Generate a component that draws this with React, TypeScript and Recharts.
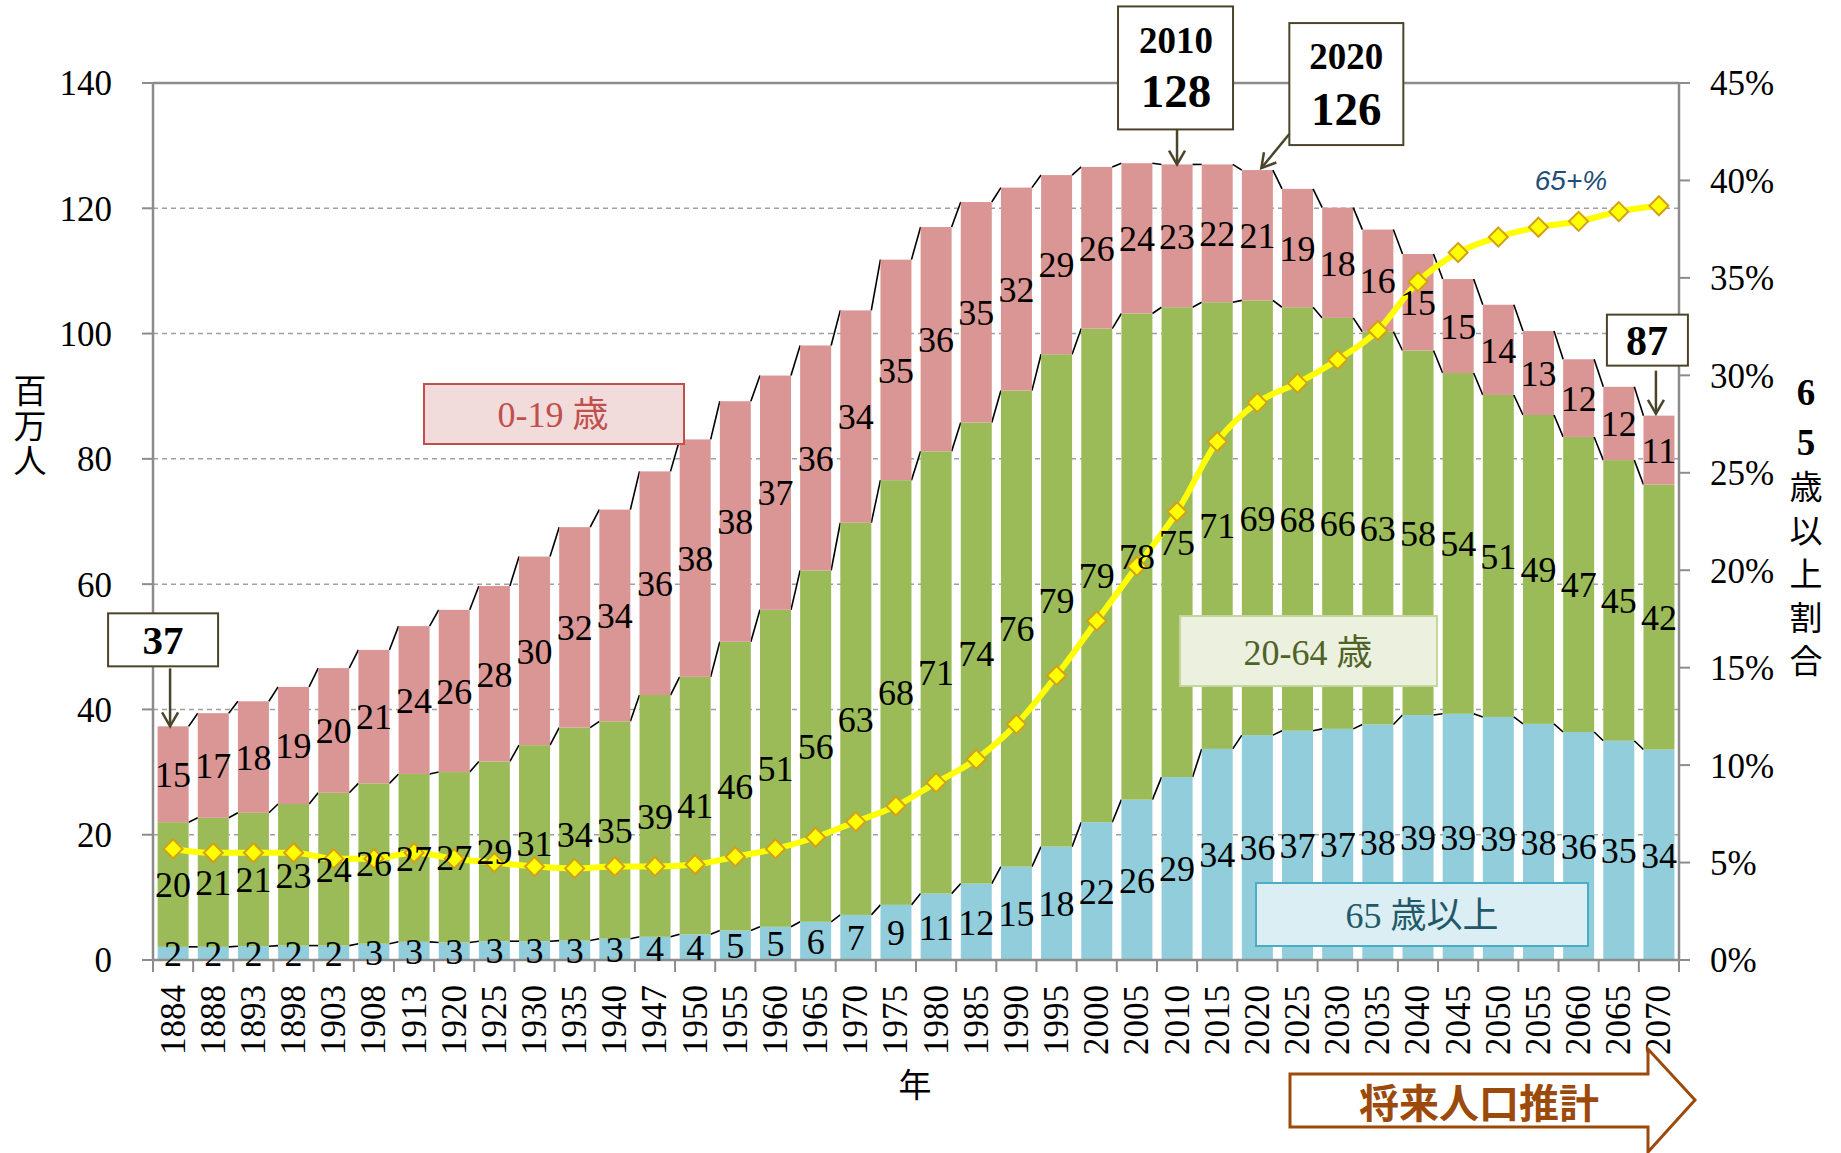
import React from 'react';
import {
  ComposedChart,
  Bar,
  Line,
  XAxis,
  YAxis,
  CartesianGrid,
  LabelList,
  ReferenceDot,
  ReferenceLine,
} from 'recharts';

// ---------- data ----------
const years = [
  '1884', '1888', '1893', '1898', '1903', '1908', '1913', '1920', '1925', '1930',
  '1935', '1940', '1947', '1950', '1955', '1960', '1965', '1970', '1975', '1980',
  '1985', '1990', '1995', '2000', '2005', '2010', '2015', '2020', '2025', '2030',
  '2035', '2040', '2045', '2050', '2055', '2060', '2065', '2070',
];
// 65歳以上 (million)
const age65plus = [
  2.1, 2.1, 2.2, 2.3, 2.3, 2.6, 2.9, 2.8, 3.0, 3.0,
  3.1, 3.4, 3.7, 4.1, 4.7, 5.3, 6.1, 7.2, 8.8, 10.6,
  12.2, 14.9, 18.1, 22.0, 25.6, 29.2, 33.7, 35.9, 36.6, 36.9,
  37.6, 39.1, 39.3, 38.8, 37.7, 36.4, 35.0, 33.6,
];
// 20-64歳 (million)
const age20to64 = [
  19.9, 20.6, 21.3, 22.6, 24.4, 25.6, 26.8, 27.2, 28.7, 31.3,
  34.0, 34.7, 38.6, 41.1, 46.1, 50.6, 56.1, 62.6, 67.8, 70.6,
  73.6, 76.0, 78.6, 78.8, 77.6, 75.0, 71.3, 69.4, 67.6, 65.6,
  62.7, 58.2, 54.4, 51.4, 49.3, 47.1, 44.8, 42.3,
];
// 0-19歳 (million)
const age0to19 = [
  15.3, 16.7, 17.8, 18.7, 19.9, 21.3, 23.6, 25.9, 28.0, 30.1,
  32.0, 33.8, 35.7, 37.9, 38.4, 37.4, 35.9, 33.9, 35.2, 35.8,
  35.2, 32.4, 28.6, 25.8, 24.0, 22.8, 22.0, 20.8, 18.9, 17.6,
  16.3, 15.4, 15.0, 14.4, 13.4, 12.4, 11.7, 11.0,
];
// 65歳以上割合 (%)
const share65 = [
  5.7, 5.5, 5.5, 5.5, 5.2, 5.2, 5.5, 5.2, 5.0, 4.8,
  4.7, 4.8, 4.8, 4.9, 5.3, 5.7, 6.3, 7.1, 7.9, 9.1,
  10.3, 12.1, 14.6, 17.4, 20.2, 23.0, 26.6, 28.6, 29.6, 30.8,
  32.3, 34.8, 36.3, 37.1, 37.6, 37.9, 38.4, 38.7,
];
const leftTicks = [0, 20, 40, 60, 80, 100, 120, 140];
const rightTicks = [0, 5, 10, 15, 20, 25, 30, 35, 40, 45];

// annotated totals
const callouts = [
  { year: '1884', title: '', text: '37' },
  { year: '2010', title: '2010', text: '128' },
  { year: '2020', title: '2020', text: '126' },
  { year: '2070', title: '', text: '87' },
];

const data = years.map((year, i) => ({
  year,
  old: age65plus[i],
  work: age20to64[i],
  young: age0to19[i],
  pct: share65[i],
  total: age65plus[i] + age20to64[i] + age0to19[i],
}));

// ---------- layout ----------
const W = 1841;
const H = 1153;
const MARGIN = { top: 83, right: 22, bottom: 22, left: 22 };
const LEFT_AXIS_W = 131;
const RIGHT_AXIS_W = 140;
const X_AXIS_H = 171;
const PLOT_W = W - MARGIN.left - MARGIN.right - LEFT_AXIS_W - RIGHT_AXIS_W;
const STEP = PLOT_W / years.length;

const SERIF = '"Liberation Serif", "Times New Roman", serif';
const CJK = '"Liberation Serif", "Noto Sans CJK JP", sans-serif';
const AXIS_COLOR = '#8c8c8c';
const BOX_COLOR = '#4a452a';

const stackKeys = ['old', 'work', 'young'] as const;

// bar with Excel-like series lines to the next bar
function makeShape(level: number) {
  return (props: any) => {
    const { x, y, width, height, fill, payload } = props;
    const idx = data.findIndex((d) => d.year === payload.year);
    const row: any = data[idx];
    const own = row[stackKeys[level]];
    const low = stackKeys.slice(0, level).reduce((s, k) => s + row[k], 0);
    const ppu = own ? height / own : 0;
    const base = y + height + low * ppu;
    let seg = null;
    if (idx >= 0 && idx < data.length - 1) {
      const nrow: any = data[idx + 1];
      const nTop = stackKeys.slice(0, level + 1).reduce((s, k) => s + nrow[k], 0);
      const ny = base - nTop * ppu;
      seg = (
        <line x1={x + width} y1={y} x2={x + STEP} y2={ny} stroke="#000" strokeWidth={1.6} />
      );
    }
    return (
      <g>
        <rect x={x} y={y} width={width} height={height} fill={fill} />
        {seg}
      </g>
    );
  };
}

const XTick = (props: any) => {
  const { x, y, payload, index } = props;
  const ty = y + 25;
  return (
    <g>
      <line x1={x - STEP / 2} y1={y} x2={x - STEP / 2} y2={y + 12} stroke={AXIS_COLOR} strokeWidth={2} />
      {index === years.length - 1 && (
        <line x1={x + STEP / 2} y1={y} x2={x + STEP / 2} y2={y + 12} stroke={AXIS_COLOR} strokeWidth={2} />
      )}
      <text
        x={x}
        y={ty}
        transform={`rotate(-90, ${x}, ${ty})`}
        textAnchor="end"
        dominantBaseline="central"
        fontSize={35}
        fontFamily={SERIF}
        fill="#000"
      >
        {payload.value}
      </text>
    </g>
  );
};

const Diamond = (props: any) => {
  const { cx, cy } = props;
  if (cx == null || cy == null) return null;
  const r = 9.5;
  return (
    <path
      d={`M${cx},${cy - r} L${cx + r},${cy} L${cx},${cy + r} L${cx - r},${cy} Z`}
      fill="#ffff00"
      stroke="#d4a017"
      strokeWidth={2}
    />
  );
};

function ArrowLine({ x1, y1, x2, y2 }: { x1: number; y1: number; x2: number; y2: number }) {
  const a = Math.atan2(y2 - y1, x2 - x1);
  const L = 16;
  const sp = Math.PI / 6;
  const p1 = [x2 - L * Math.cos(a - sp), y2 - L * Math.sin(a - sp)];
  const p2 = [x2 - L * Math.cos(a + sp), y2 - L * Math.sin(a + sp)];
  return (
    <g stroke={BOX_COLOR} strokeWidth={2.5} fill="none">
      <line x1={x1} y1={y1} x2={x2} y2={y2} />
      <polyline points={`${p1[0]},${p1[1]} ${x2},${y2} ${p2[0]},${p2[1]}`} />
    </g>
  );
}

// callout shapes, positioned relative to the bar top given by the library
const calloutShape = (c: { year: string; title: string; text: string }) => (props: any) => {
  const { cx, cy } = props;
  if (cx == null || cy == null) return null;
  if (c.year === '1884') {
    return (
      <g>
        <rect x={cx - 65} y={cy - 113} width={110} height={53} fill="#fff" stroke={BOX_COLOR} strokeWidth={2} />
        <text x={cx - 10} y={cy - 86} textAnchor="middle" dominantBaseline="central" fontSize={41} fontWeight="bold" fontFamily={SERIF}>{c.text}</text>
        <ArrowLine x1={cx - 3} y1={cy - 58} x2={cx - 3} y2={cy} />
      </g>
    );
  }
  if (c.year === '2010') {
    return (
      <g>
        <rect x={cx - 59} y={cy - 158} width={115} height={123} fill="#fff" stroke={BOX_COLOR} strokeWidth={2} />
        <text x={cx - 1} y={cy - 124} textAnchor="middle" dominantBaseline="central" fontSize={37} fontWeight="bold" fontFamily={SERIF}>{c.title}</text>
        <text x={cx - 1} y={cy - 73} textAnchor="middle" dominantBaseline="central" fontSize={47} fontWeight="bold" fontFamily={SERIF}>{c.text}</text>
        <ArrowLine x1={cx} y1={cy - 35} x2={cx} y2={cy} />
      </g>
    );
  }
  if (c.year === '2020') {
    return (
      <g>
        <rect x={cx + 32} y={cy - 147} width={114} height={122} fill="#fff" stroke={BOX_COLOR} strokeWidth={2} />
        <text x={cx + 89} y={cy - 114} textAnchor="middle" dominantBaseline="central" fontSize={37} fontWeight="bold" fontFamily={SERIF}>{c.title}</text>
        <text x={cx + 89} y={cy - 61} textAnchor="middle" dominantBaseline="central" fontSize={47} fontWeight="bold" fontFamily={SERIF}>{c.text}</text>
        <ArrowLine x1={cx + 32} y1={cy - 36} x2={cx + 4} y2={cy - 2} />
      </g>
    );
  }
  return (
    <g>
      <rect x={cx - 52} y={cy - 101} width={81} height={51} fill="#fff" stroke={BOX_COLOR} strokeWidth={2} />
      <text x={cx - 12} y={cy - 75} textAnchor="middle" dominantBaseline="central" fontSize={42} fontWeight="bold" fontFamily={SERIF}>{c.text}</text>
      <ArrowLine x1={cx - 3} y1={cy - 45} x2={cx - 3} y2={cy - 2} />
    </g>
  );
};

const labelStyle = { fontSize: 36, fontFamily: SERIF, fill: '#000' };
const fmtInt = (v: any) => Math.round(Number(v));

export default function App() {
  return (
    <div style={{ position: 'absolute', left: 0, top: 0, width: W, height: H, background: '#fff' }}>
      <ComposedChart
        width={W}
        height={H}
        data={data}
        margin={MARGIN}
        barCategoryGap="11.5%"
      >
        <CartesianGrid vertical={false} stroke="#a0a0a0" strokeWidth={1.5} strokeDasharray="5 4" />
        <XAxis
          dataKey="year"
          height={X_AXIS_H}
          interval={0}
          tickLine={false}
          tickSize={0}
          tickMargin={0}
          axisLine={{ stroke: AXIS_COLOR, strokeWidth: 2.5 }}
          tick={<XTick />}
        />
        <YAxis
          domain={[0, 140]}
          ticks={leftTicks}
          width={LEFT_AXIS_W}
          tickSize={11}
          tickMargin={30}
          axisLine={{ stroke: AXIS_COLOR, strokeWidth: 2.5 }}
          tickLine={{ stroke: AXIS_COLOR, strokeWidth: 2 }}
          tick={{ fontSize: 35, fontFamily: SERIF, fill: '#000' }}
          interval={0}
        />
        <YAxis
          yAxisId="right"
          orientation="right"
          domain={[0, 45]}
          ticks={rightTicks}
          width={RIGHT_AXIS_W}
          tickSize={11}
          tickMargin={20}
          tickFormatter={(v: number) => `${v}%`}
          axisLine={{ stroke: AXIS_COLOR, strokeWidth: 2.5 }}
          tickLine={{ stroke: AXIS_COLOR, strokeWidth: 2 }}
          tick={{ fontSize: 35, fontFamily: SERIF, fill: '#000', textAnchor: 'start' }}
          interval={0}
        />
        <ReferenceLine y={140} stroke={AXIS_COLOR} strokeWidth={2.5} />
        <Bar dataKey="old" stackId="pop" fill="#92cddc" shape={makeShape(0)} isAnimationActive={false}>
          <LabelList dataKey="old" position="center" style={labelStyle} formatter={fmtInt} />
        </Bar>
        <Bar dataKey="work" stackId="pop" fill="#9bbb59" shape={makeShape(1)} isAnimationActive={false}>
          <LabelList dataKey="work" position="center" style={labelStyle} formatter={fmtInt} />
        </Bar>
        <Bar dataKey="young" stackId="pop" fill="#d99694" shape={makeShape(2)} isAnimationActive={false}>
          <LabelList dataKey="young" position="center" style={labelStyle} formatter={fmtInt} />
        </Bar>
        <Line
          yAxisId="right"
          dataKey="pct"
          type="monotone"
          stroke="#ffff00"
          strokeWidth={6}
          dot={<Diamond />}
          activeDot={false}
          isAnimationActive={false}
        />
        {callouts.map((c) => {
          const row = data.find((d) => d.year === c.year)!;
          return (
            <ReferenceDot
              key={c.year}
              x={c.year}
              y={row.total}
              shape={calloutShape(c)}
              ifOverflow="visible"
            />
          );
        })}
      </ComposedChart>

      <svg
        width={W}
        height={H}
        style={{ position: 'absolute', left: 0, top: 0, pointerEvents: 'none' }}
      >
        {/* left axis title */}
        {['百', '万', '人'].map((ch, i) => (
          <text key={ch} x={30} y={392 + i * 35} textAnchor="middle" dominantBaseline="central" fontSize={33} fontFamily={CJK}>{ch}</text>
        ))}
        {/* right axis title */}
        <text x={1806} y={392} textAnchor="middle" dominantBaseline="central" fontSize={37} fontWeight="bold" fontFamily={SERIF}>6</text>
        <text x={1806} y={442} textAnchor="middle" dominantBaseline="central" fontSize={37} fontWeight="bold" fontFamily={SERIF}>5</text>
        {['歳', '以', '上', '割', '合'].map((ch, i) => (
          <text key={ch} x={1806} y={488 + i * 43.5} textAnchor="middle" dominantBaseline="central" fontSize={33} fontFamily={CJK}>{ch}</text>
        ))}
        {/* x axis title */}
        <text x={915} y={1086} textAnchor="middle" dominantBaseline="central" fontSize={33} fontFamily={CJK}>年</text>

        {/* series name boxes */}
        <rect x={424} y={384} width={260} height={60} fill="#f2dcdb" stroke="#c0504d" strokeWidth={2} />
        <text x={553} y={415} textAnchor="middle" dominantBaseline="central" fontSize={36} fill="#c0504d" fontFamily={CJK}>0-19 歳</text>

        <rect x={1180} y={616} width={257} height={70} fill="#ebf1de" stroke="#c3d69b" strokeWidth={2} />
        <text x={1308} y={653} textAnchor="middle" dominantBaseline="central" fontSize={36} fill="#4f6228" fontFamily={CJK}>20-64 歳</text>

        <rect x={1256} y={883} width={332} height={63} fill="#dbeef4" stroke="#4bacc6" strokeWidth={2} />
        <text x={1422} y={916} textAnchor="middle" dominantBaseline="central" fontSize={36} fill="#215968" fontFamily={CJK}>65 歳以上</text>

        <text x={1571} y={180} textAnchor="middle" dominantBaseline="central" fontSize={28} fontStyle="italic" fill="#1f4e79" fontFamily='"Liberation Sans", Arial, sans-serif'>65+%</text>

        {/* projection arrow */}
        <polygon
          points="1290,1074 1648,1074 1648,1049 1695,1100 1648,1152 1648,1127 1290,1127"
          fill="#fff"
          stroke="#9c4a0b"
          strokeWidth={3}
        />
        <text x={1479} y={1101} textAnchor="middle" dominantBaseline="central" fontSize={40} fontWeight="bold" fill="#9c4a0b" fontFamily='"Noto Sans CJK JP", sans-serif'>将来人口推計</text>
      </svg>
    </div>
  );
}
